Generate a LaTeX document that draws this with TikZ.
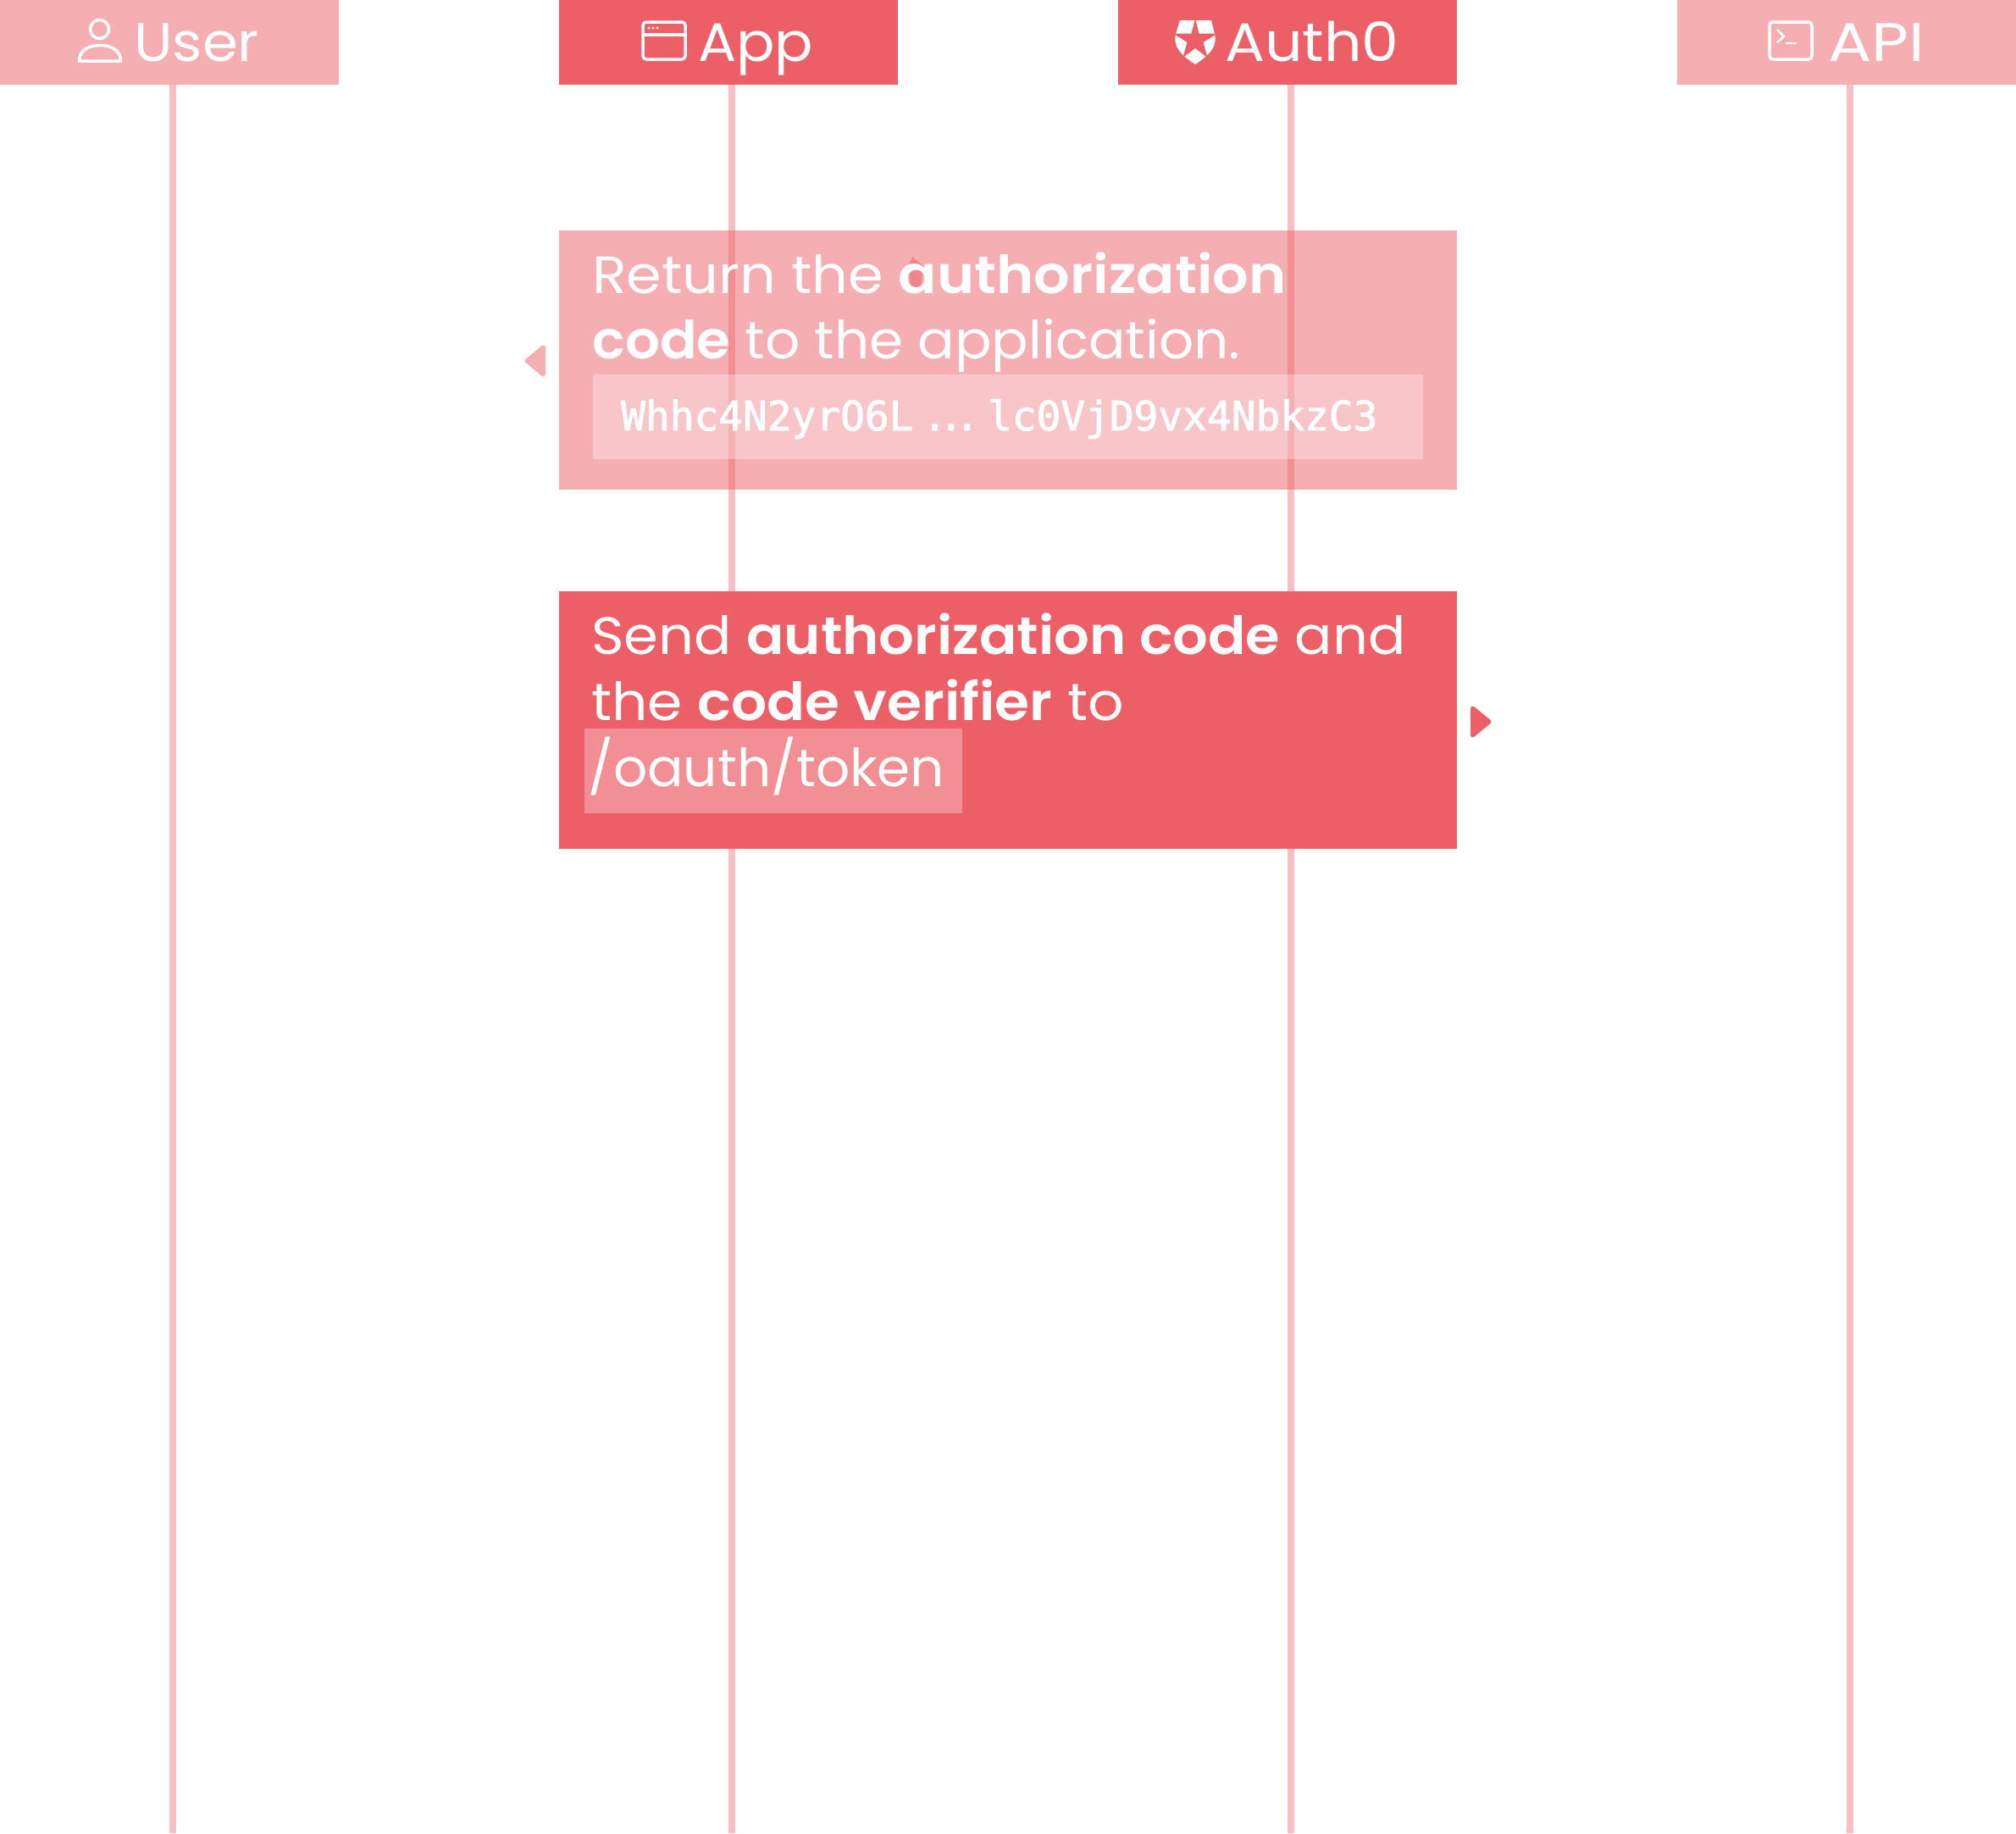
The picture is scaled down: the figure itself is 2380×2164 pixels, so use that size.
\documentclass[tikz,border=0pt]{standalone}
\usepackage{graphicx}
\usepackage{fontspec}
\setmainfont{Poppins}[BoldFont=* SemiBold]
\newfontfamily\codefont{DejaVu Sans Mono}[FakeBold=2]
\newcommand{\wide}[2]{\scalebox{#1}[1]{#2}}
\definecolor{dark}{HTML}{EC5F67}
\definecolor{lite}{HTML}{F5AFB3}
\definecolor{lifeln}{HTML}{F6BFC3}
\tikzset{
 x=1pt,y=-1pt,
 headbox/.style={inner sep=0pt,anchor=north west,minimum width=400pt,minimum height=100pt},
 headtext/.style={text=white,anchor=base west,inner sep=0pt,font=\fontsize{64}{64}\selectfont},
 bodytext/.style={text=white,anchor=base west,inner sep=0pt,font=\fontsize{62}{78}\selectfont},
 codetext/.style={text=white,anchor=base west,inner sep=0pt,font=\codefont\fontsize{47.8}{50}\selectfont},
 lifeline/.style={draw=lifeln,line width=8pt},
 icon/.style={draw=white,line width=3.5pt,fill=none},
 tip/.style={line width=5pt,line join=round,fill=#1,draw=#1},
 panel/.style={anchor=north west,inner sep=0pt,minimum width=1060pt},
 hilite/.style={anchor=north west,inner sep=0pt,fill=white,fill opacity=.3}
}
\begin{document}
\begin{tikzpicture}
\useasboundingbox (0,0) rectangle (2380,2164);
\fill[white] (0,0) rectangle (2380,2164);
% headers
\node[headbox,fill=lite] (user) at (0,0) {};
\node[headbox,fill=dark] (app) at (660,0) {};
\node[headbox,fill=dark] (auth) at (1320,0) {};
\node[headbox,fill=lite] (api) at (1980,0) {};
\coordinate (userend) at (204,2164);
\coordinate (append) at (864,2164);
\coordinate (authend) at (1524,2164);
\coordinate (apiend) at (2184,2164);
\draw[lifeline] (204,100) -- (userend);
\draw[lifeline] (864,100) -- (append);
\draw[lifeline] (1524,100) -- (authend);
\draw[lifeline] (2184,100) -- (apiend);
\node[headtext] (usert) at (158,72) {\wide{1.055}{User}};
\node[headtext] (appt) at (824,72) {\wide{1.05}{App}};
\node[headtext] (autht) at (1446,72) {\wide{1.09}{Auth0}};
\node[headtext] (apit) at (2158,72) {\wide{1.19}{API}};
% user icon
\draw[icon] (117.5,34.5) circle (11);
\draw[icon,line join=round] (93.5,72) .. controls (93.5,60) and (104,53.5) .. (118,53.5) .. controls (132,53.5) and (142.5,60) .. (142.5,72) -- cycle;
% app icon
\draw[icon,rounded corners=4pt] (759,26) rectangle (809,70);
\draw[icon] (759,41) -- (809,41);
\fill[white] (766,33) circle (1.6) (771,33) circle (1.6) (776,33) circle (1.6);
% auth0 icon
\fill[white] (1393,24) -- (1430,24) -- (1434,40) .. controls (1437,53) and (1431,63) .. (1411,76) .. controls (1391,63) and (1385,53) .. (1388,40) -- cycle;
\fill[dark] (1411,22) -- (1415.5,39.5) -- (1437,39.5) -- (1420.5,50) -- (1425.5,68) -- (1411,57) -- (1396.5,68) -- (1401.5,50) -- (1385,39.5) -- (1406.5,39.5) -- cycle;
% api icon
\draw[icon,rounded corners=4pt] (2089,26) rectangle (2139,70);
\draw[draw=white,line width=2.5pt] (2098,35) -- (2106,43) -- (2098,50);
\draw[draw=white,line width=2.5pt] (2108,51) -- (2121,51);
% box 1
\node[panel,minimum height=306pt,fill=dark,fill opacity=.5] (box1) at (660,272) {};
\fill[dark,fill opacity=.5] (1077,303) -- (1073,313) -- (1075,340) -- (1087,340) -- (1090,314) -- cycle;
\node[hilite,minimum width=980pt,minimum height=100pt] (code1) at (700,442) {};
\node[bodytext] (l1) at (699,346) {\wide{1.08}{Return the \textbf{authorization}}};
\node[bodytext] (l2) at (699,423) {\wide{1.04}{\textbf{code} to the application.}};
\node[codetext] (c1) at (733,508) {Whhc4N2yrO6L \kern-18pt.\kern-9.7pt.\kern-9.7pt.\kern-19pt\ lc0VjD9vx4NbkzC3};
% box 2
\node[panel,minimum height=304pt,fill=dark] (box2) at (660,698) {};
\node[hilite,minimum width=446pt,minimum height=100pt] (code2) at (690,860) {};
\node[bodytext] (s1) at (698,772) {\wide{1.058}{Send \textbf{authorization code} and}};
\node[bodytext] (s2) at (698,850) {\wide{1.07}{the \textbf{code verifier} to}};
\node[bodytext] (s3) at (694,928) {\wide{1.015}{/oauth/token}};
% arrowheads
\draw[tip=lite] (641.5,410) -- (641.5,442) -- (622,426) -- cycle;
\draw[tip=dark] (1738.5,836) -- (1738.5,868) -- (1758,852) -- cycle;
\end{tikzpicture}
\end{document}
